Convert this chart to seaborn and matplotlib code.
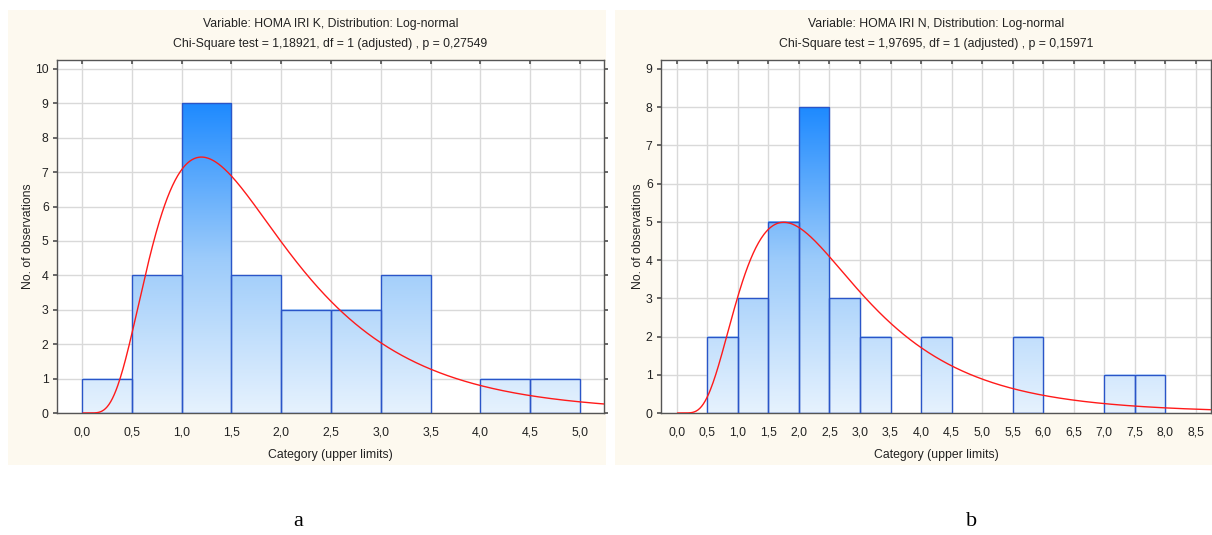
import numpy as np
import pandas as pd
import matplotlib
matplotlib.use("Agg")
import matplotlib.pyplot as plt
from matplotlib.colors import LinearSegmentedColormap
from matplotlib.patches import Rectangle
import seaborn as sns

# --- data -------------------------------------------------------------
# panel a: HOMA IRI K
edges_k = [0.0, 0.5, 1.0, 1.5, 2.0, 2.5, 3.0, 3.5, 4.0, 4.5, 5.0]
counts_k = [1, 4, 9, 4, 3, 3, 4, 0, 1, 1]
ticks_k = [0.0, 0.5, 1.0, 1.5, 2.0, 2.5, 3.0, 3.5, 4.0, 4.5, 5.0]
mu_k, sigma_k = 0.507, 0.57          # fitted log-normal parameters
title_k = ["Variable: HOMA IRI K, Distribution: Log-normal",
           "Chi-Square test = 1,18921, df = 1 (adjusted) , p = 0,27549"]

# panel b: HOMA IRI N
edges_n = [0.5, 1.0, 1.5, 2.0, 2.5, 3.0, 3.5, 4.0, 4.5, 5.0, 5.5, 6.0,
           6.5, 7.0, 7.5, 8.0]
counts_n = [2, 3, 5, 8, 3, 2, 0, 2, 0, 0, 2, 0, 0, 1, 1]
ticks_n = [0.0, 0.5, 1.0, 1.5, 2.0, 2.5, 3.0, 3.5, 4.0, 4.5, 5.0, 5.5,
           6.0, 6.5, 7.0, 7.5, 8.0, 8.5]
mu_n, sigma_n = 0.879, 0.565
title_n = ["Variable: HOMA IRI N, Distribution: Log-normal",
           "Chi-Square test = 1,97695, df = 1 (adjusted) , p = 0,15971"]

panel_letters = ["a", "b"]

# --- style ------------------------------------------------------------
sns.set_theme(style="white")
plt.rcParams["font.family"] = ["Liberation Sans", "DejaVu Sans"]

W, H = 1212, 535
FS = 8.8
TXT = "#222222"
fig = plt.figure(figsize=(W / 100, H / 100), dpi=100)
fig.patch.set_facecolor("white")

panel_bg = "#FDF9EF"
bar_cmap = LinearSegmentedColormap.from_list(
    "bars", ["#E6F2FE", "#9CCBFA", "#1E8AFF"])


def px_box(x0, y0, x1, y1):
    """figure-fraction rectangle from pixel corners (top-left origin)"""
    return [x0 / W, 1 - y1 / H, (x1 - x0) / W, (y1 - y0) / H]


def lognorm_pdf(x, mu, sigma):
    return np.exp(-(np.log(x) - mu) ** 2 / (2 * sigma ** 2)) / (
        x * sigma * np.sqrt(2 * np.pi))


def draw_panel(bg_px, ax_px, edges, counts, ticks, mu, sigma, titles,
               ylim, yticks, xlim, letter, letter_x):
    # cream background box behind the whole panel
    fig.patches.append(Rectangle((bg_px[0] / W, 1 - bg_px[3] / H),
                                 (bg_px[2] - bg_px[0]) / W,
                                 (bg_px[3] - bg_px[1]) / H,
                                 transform=fig.transFigure,
                                 facecolor=panel_bg, edgecolor="none",
                                 zorder=-5))
    ax = fig.add_axes(px_box(*ax_px))
    ax.set_zorder(1)
    ax.set_facecolor("white")

    mids = [(a + b) / 2 for a, b in zip(edges[:-1], edges[1:])]
    df = pd.DataFrame({"value": mids, "n": counts})
    sns.histplot(data=df, x="value", weights="n", bins=list(edges), ax=ax,
                 stat="count", element="bars", fill=True,
                 edgecolor="#2A55C8", linewidth=1.0)

    # vertical gradient fill inside every bar
    cmax = max(counts)
    for p in ax.patches:
        h = p.get_height()
        if h <= 0:
            p.set_visible(False)
            continue
        x0, w = p.get_x(), p.get_width()
        grad = np.linspace(0, h / cmax, 256).reshape(-1, 1)
        ax.imshow(grad, extent=[x0, x0 + w, 0, h], origin="lower",
                  aspect="auto", cmap=bar_cmap, vmin=0, vmax=1,
                  interpolation="bilinear", zorder=2)
        p.set_facecolor("none")
        p.set_edgecolor("#2A55C8")
        p.set_alpha(1)
        p.set_zorder(3)

    # fitted log-normal curve scaled to counts
    bw = edges[1] - edges[0]
    xs = np.linspace(0.01, xlim[1], 600)
    ys = lognorm_pdf(xs, mu, sigma) * sum(counts) * bw
    sns.lineplot(x=xs, y=ys, ax=ax, color="#FF1A1A", linewidth=1.0,
                 zorder=4)

    ax.set_xlim(*xlim)
    ax.set_ylim(*ylim)
    ax.set_xticks(ticks)
    ax.set_xticklabels([f"{t:.1f}".replace(".", ",") for t in ticks],
                       fontsize=FS, color=TXT)
    ax.set_yticks(yticks)
    ax.set_yticklabels([str(t) for t in yticks], fontsize=FS, color=TXT)
    ax.grid(True, color="#D9D9D9", linewidth=1.0, zorder=0)
    ax.set_axisbelow(True)
    for s in ax.spines.values():
        s.set_color("#555555")
        s.set_linewidth(1.0)
        s.set_visible(True)
    ax.tick_params(axis="x", which="both", bottom=False, top=True,
                   direction="in", length=3, color="#555555", pad=10)
    ax.tick_params(axis="y", which="both", left=True, right=True,
                   direction="out", length=3, color="#555555", pad=3)
    ax.set_xlabel("Category (upper limits)", fontsize=FS, color=TXT,
                  labelpad=7)
    ax.set_ylabel("No. of observations", fontsize=FS, color=TXT,
                  labelpad=1)

    cx = (ax_px[0] + ax_px[2]) / 2
    fig.text(cx / W, 1 - 24 / H, titles[0], ha="center", va="center",
             fontsize=FS, color=TXT)
    fig.text(cx / W, 1 - 44 / H, titles[1], ha="center", va="center",
             fontsize=FS, color=TXT)
    fig.text(letter_x / W, 1 - 522 / H, letter, ha="center", va="center",
             fontsize=16, family=["Liberation Serif", "DejaVu Serif"],
             color="black")
    return ax


draw_panel((8, 10, 606, 465), (57, 60, 604, 413), edges_k, counts_k,
           ticks_k, mu_k, sigma_k, title_k, (0, 10.26), list(range(11)),
           (-0.25, 5.24), panel_letters[0], 298)
draw_panel((615, 10, 1212, 465), (661, 60, 1211, 413), edges_n, counts_n,
           ticks_n, mu_n, sigma_n, title_n, (0, 9.23), list(range(10)),
           (-0.26, 8.75), panel_letters[1], 972)

fig.savefig("out.png", dpi=100, facecolor="white")
